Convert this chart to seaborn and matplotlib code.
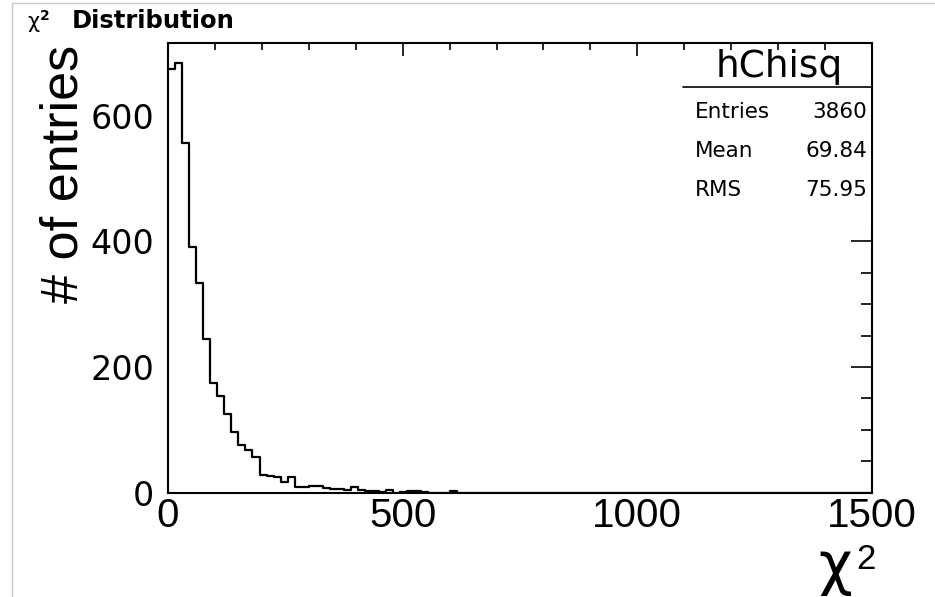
import numpy as np
import pandas as pd
import seaborn as sns
import matplotlib.pyplot as plt
from matplotlib import font_manager
from matplotlib.lines import Line2D
from matplotlib.patches import Rectangle
from matplotlib.ticker import MultipleLocator

# Histogram hChisq: 100 bins of width 15 on [0, 1500]
x_min, x_max, n_bins = 0, 1500, 100
counts_head = [675, 684, 556, 391, 333, 245, 174, 154, 125, 96,
               75, 68, 56, 28, 27, 25, 16, 25, 8, 8,
               10, 10, 7, 6, 5, 4, 8, 4, 2, 2,
               1, 4, 0, 1, 3, 2, 1, 0, 0, 0,
               3]
counts = counts_head + [0] * (n_bins - len(counts_head))

x_ticks = [0, 500, 1000, 1500]
y_ticks = [0, 200, 400, 600]
y_top = 716

title_text = "Distribution"
stats_name = "hChisq"
stats_rows = [("Entries", "3860"), ("Mean", "69.84"), ("RMS", "75.95")]

bin_width = (x_max - x_min) / n_bins
centers = x_min + bin_width * (np.arange(n_bins) + 0.5)
df = pd.DataFrame({"chi2": centers, "entries": counts})

sns.set_theme(style="white")
installed = {f.name for f in font_manager.fontManager.ttflist}
narrow = "Liberation Sans Narrow" if "Liberation Sans Narrow" in installed else "Liberation Sans"
plt.rcParams["font.family"] = ["Liberation Sans", "DejaVu Sans"]
plt.rcParams.update({"text.color": "black", "xtick.color": "black",
                     "ytick.color": "black", "axes.labelcolor": "black",
                     "axes.edgecolor": "black"})

W, H = 935, 597
fig = plt.figure(figsize=(W / 100, H / 100), dpi=100)
fig.patch.set_facecolor("white")


def fx(px):
    return px / W


def fy(py):
    return 1 - py / H


ax_l, ax_r, ax_b, ax_t = 168, 872, 492.5, 43
ax = fig.add_axes([fx(ax_l), fy(ax_b), fx(ax_r - ax_l), (ax_b - ax_t) / H])

sns.histplot(data=df, x="chi2", weights="entries", binwidth=bin_width,
             binrange=(x_min, x_max), element="step", fill=False,
             color="black", linewidth=1.6, ax=ax)

ax.set_xlim(x_min, x_max)
ax.set_ylim(0, y_top)
ax.set_xticks(x_ticks)
ax.set_yticks(y_ticks)
ax.xaxis.set_minor_locator(MultipleLocator(100))
ax.yaxis.set_minor_locator(MultipleLocator(50))
ax.set_xlabel("")
ax.set_ylabel("")
for s in ax.spines.values():
    s.set_visible(True)
    s.set_color("black")
    s.set_linewidth(1.5)

ax.tick_params(which="both", direction="in", top=True, right=True,
               color="black", labelcolor="black", width=1.2)
ax.tick_params(axis="x", which="major", length=9.5, pad=3.5)
ax.tick_params(axis="x", which="minor", length=4.8)
ax.tick_params(axis="y", which="major", length=15, pad=10)
ax.tick_params(axis="y", which="minor", length=8)
for lab in ax.get_xticklabels():
    lab.set_fontfamily([narrow, "DejaVu Sans"])
    lab.set_fontsize(29)
for lab in ax.get_yticklabels():
    lab.set_fontfamily("DejaVu Sans")
    lab.set_fontsize(24)

# axis titles
fig.text(fx(78), fy(45), "# of entries", rotation=90, rotation_mode="anchor",
         ha="right", va="baseline", fontsize=37.5, family=[narrow, "DejaVu Sans"])
fig.text(fx(818), fy(584), "χ", ha="left", va="baseline", fontsize=42,
         family="DejaVu Sans")
fig.text(fx(856), fy(569), "2", ha="left", va="baseline", fontsize=25,
         family="Liberation Sans")

# histogram title
fig.text(fx(27), fy(27.5), "χ", ha="left", va="baseline", fontsize=15,
         family="DejaVu Sans")
fig.text(fx(40), fy(20), "2", ha="left", va="baseline", fontsize=10,
         family="DejaVu Sans", fontweight="bold")
fig.text(fx(72), fy(27.5), title_text, ha="left", va="baseline", fontsize=17.5,
         family="DejaVu Sans", fontweight="bold")

# statistics box (white panel over the right-hand ticks, frame kept)
fig.add_artist(Rectangle((fx(683), fy(226)), fx(871 - 683), (226 - 50) / H,
                         facecolor="white", edgecolor="none", zorder=1))
fig.text(fx(779), fy(77), stats_name, ha="center", va="baseline", fontsize=27,
         family="DejaVu Sans")
fig.add_artist(Line2D([fx(683), fx(ax_r)], [fy(87), fy(87)], color="black",
                      lw=1.2, zorder=2))
for i, (name, val) in enumerate(stats_rows):
    yb = 117.5 + 39.5 * i
    fig.text(fx(695), fy(yb), name, ha="left", va="baseline", fontsize=15.5,
             family="DejaVu Sans")
    fig.text(fx(867), fy(yb), val, ha="right", va="baseline", fontsize=15.5,
             family="DejaVu Sans")

# canvas border
fig.add_artist(Line2D([fx(11.5), fx(11.5)], [0, fy(2.5)], color="#c8c8c8", lw=1))
fig.add_artist(Line2D([fx(11.5), 1], [fy(2.5), fy(2.5)], color="#c8c8c8", lw=1))

fig.savefig("out.png", dpi=100, facecolor="white")
